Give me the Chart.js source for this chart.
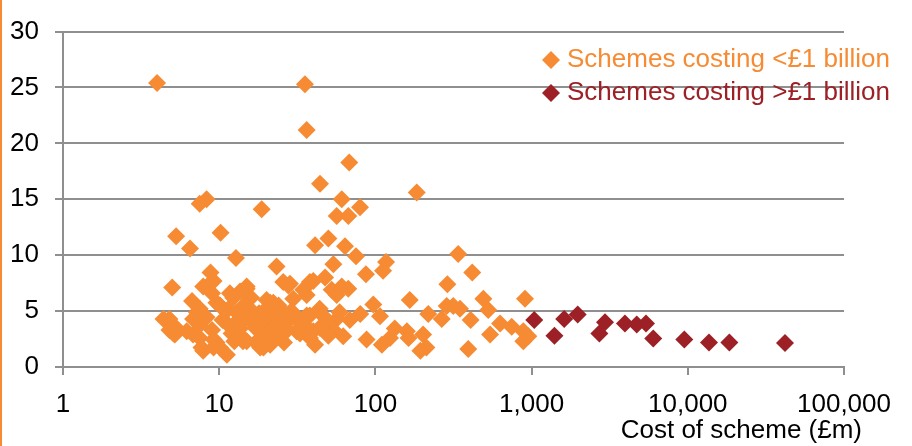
<!DOCTYPE html>
<html>
<head>
<meta charset="utf-8">
<script src="https://cdn.jsdelivr.net/npm/chart.js@4/dist/chart.umd.min.js"></script>
<style>
  body { margin: 0; background: #fff; }
  #wrap { position: relative; width: 912px; height: 446px; }
  #edge { position: absolute; left: 0; top: 0; width: 2px; height: 446px; background: #f68b33; }
</style>
</head>
<body>
<div id="wrap">
  <canvas id="costChart" width="912" height="446"></canvas>
  <div id="edge"></div>
</div>
<script>
// cost of scheme (£m)
const smallSchemes = [
    [4.0, 25.4], [35.4, 25.3], [36.3, 21.2], [68, 18.3], [44.2, 16.4], [184, 15.6], [8.3, 15.0], [7.5, 14.6],
    [60.9, 15.0], [79.7, 14.3], [18.7, 14.1], [56.5, 13.5], [67.1, 13.5],
    [10.2, 12.0], [5.3, 11.7], [6.5, 10.6], [50, 11.5], [41.1, 10.9], [63.9, 10.8], [12.8, 9.75], [75.1, 9.9],
    [339, 10.1], [23.3, 9.0], [53.8, 9.2], [117, 9.4], [112, 8.6], [87, 8.3], [417, 8.45], [8.8, 8.45], [47.6, 8.0],
    [5.0, 7.1], [9.2, 7.7], [7.9, 7.2], [25.7, 7.6], [27.7, 7.3], [38.1, 7.6], [60.9, 7.2], [52.5, 6.9], [67, 7.0],
    [289, 7.4], [28.4, 7.45], [15.0, 7.0], [13.6, 6.75], [56.5, 6.45], [36.3, 6.45], [29.8, 6.1], [12.3, 6.2],
    [6.7, 5.9], [166, 6.0], [907, 6.1], [491, 6.1], [20.1, 6.0], [9, 6.6], [16, 6.2],
    [10.1, 5.5], [9.6, 5.75], [14.6, 5.6], [22.2, 5.75], [97, 5.6], [315, 5.45], [348, 5.2], [286, 5.45], [528, 5.1],
    [44, 5.2], [13.6, 4.9], [7.2, 4.9], [25.7, 4.9], [59, 4.9], [80, 4.75], [218, 4.75], [7.5, 4.75], [38, 4.6],
    [22.2, 4.6], [107, 4.55], [8.3, 4.45], [11.5, 5.2], [20, 5.2], [24, 5.5],
    [4.8, 4.3], [4.4, 4.3], [15.7, 4.3], [20.1, 4.3], [28.4, 4.3], [56.5, 4.3], [266, 4.3], [68.6, 4.2], [407, 4.2],
    [27, 4.0], [34.5, 3.9], [628, 3.9], [12.3, 3.75], [7.5, 3.75], [48.8, 3.75], [746, 3.6],
    [5.35, 3.45], [13.6, 3.45], [133, 3.45], [4.8, 3.3], [53.8, 3.3], [19.2, 3.2], [6.2, 3.2], [31.3, 3.2], [159, 3.2],
    [885, 3.2], [32.9, 3.0], [5.2, 2.9], [6.8, 2.9], [202, 2.9], [542, 2.9], [62.2, 2.75], [953, 2.75],
    [14.2, 2.6], [38.1, 2.6], [124, 2.6], [163, 2.6], [9.2, 2.45], [87.8, 2.45], [15, 2.3], [885, 2.3], [9.6, 2.2],
    [17.8, 2.0], [21.2, 2.0], [41.1, 2.0], [110, 2.0], [7.7, 1.75], [10.1, 1.75], [18.3, 1.75], [212, 1.75],
    [393, 1.6], [194, 1.45], [11.2, 1.1],
    [11, 4.0], [12, 3.0], [16, 5.0], [17, 3.5], [18, 4.8], [19, 2.5], [21, 3.5], [23, 2.8], [24, 4.0], [26, 3.0],
    [29, 5.0], [30, 4.5], [33, 4.2], [35, 3.4], [40, 3.2], [44, 3.5], [46, 4.6], [50, 2.8], [9, 3.3], [10.5, 4.2],
    [14, 4.0], [12.5, 2.3], [26, 2.2],
    [5.1, 3.0], [7.5, 2.6], [9.2, 1.75], [7.9, 1.45], [6.8, 4.3], [7.5, 5.2], [10.1, 5.5], [13.6, 3.75], [14.2, 2.3],
    [18.3, 2.6], [19.2, 1.75], [15.7, 5.2], [21.2, 5.75], [24.5, 4.3], [27, 3.45], [22.2, 3.45], [18.3, 4.0],
    [12.9, 4.9], [11.7, 6.6], [15, 7.2], [8.7, 7.45], [34.5, 6.9], [40, 7.7], [38, 3.2], [36.3, 4.6]
];
const bigSchemes = [
    [1040, 4.2], [1400, 2.8], [1617, 4.3], [1972, 4.7], [2715, 3.0], [2950, 4.0], [3960, 3.9], [4710, 3.8],
    [5400, 3.9], [6010, 2.55], [9500, 2.45], [13670, 2.2], [18450, 2.2], [41900, 2.15]
];
const seriesNames = ['Schemes costing <£1 billion', 'Schemes costing >£1 billion'];
const seriesColors = ['#f68b33', '#9c2026'];
const xTicks = [1, 10, 100, 1000, 10000, 100000];
const yTicks = [0, 5, 10, 15, 20, 25, 30];
const xTitle = 'Cost of scheme (£m)';

const fontFamily = '"Liberation Sans", Arial, sans-serif';
const gridColor = '#8f8f8f';

// legend and axis title drawn by hand so they sit where the original has them
const overlay = {
    id: 'overlay',
    afterDraw(chart) {
        const ctx = chart.ctx;
        ctx.save();
        ctx.font = '26px ' + fontFamily;
        ctx.textBaseline = 'alphabetic';
        chart.data.datasets.forEach((ds, i) => {
            const base = 67 + i * 33;
            const cx = 551, cy = base - 7, r = 9;
            ctx.fillStyle = ds.backgroundColor;
            ctx.beginPath();
            ctx.moveTo(cx - r, cy);
            ctx.lineTo(cx, cy - r);
            ctx.lineTo(cx + r, cy);
            ctx.lineTo(cx, cy + r);
            ctx.closePath();
            ctx.fill();
            ctx.textAlign = 'left';
            ctx.fillText(ds.label, 567, base);
        });
        ctx.fillStyle = '#000';
        ctx.textAlign = 'right';
        ctx.fillText(xTitle, 862, 438);
        ctx.restore();
    }
};

const toPoints = (arr) => arr.map(p => ({ x: p[0], y: p[1] }));

const ctx = document.getElementById('costChart').getContext('2d');
new Chart(ctx, {
    type: 'scatter',
    data: {
        datasets: [{
            label: seriesNames[0],
            data: toPoints(smallSchemes),
            backgroundColor: seriesColors[0],
            borderColor: seriesColors[0],
            pointStyle: 'rectRot',
            pointRadius: 9,
            pointBorderWidth: 0
        }, {
            label: seriesNames[1],
            data: toPoints(bigSchemes),
            backgroundColor: seriesColors[1],
            borderColor: seriesColors[1],
            pointStyle: 'rectRot',
            pointRadius: 9,
            pointBorderWidth: 0
        }]
    },
    options: {
        responsive: false,
        animation: false,
        layout: { padding: { top: 17, right: 68, bottom: 0, left: 0 } },
        plugins: {
            legend: { display: false },
            tooltip: { enabled: false }
        },
        scales: {
            x: {
                type: 'logarithmic',
                min: 1,
                max: 100000,
                afterBuildTicks: (s) => { s.ticks = xTicks.map(v => ({ value: v })); },
                afterFit: (s) => { s.height = 79; },
                ticks: {
                    autoSkip: false,
                    maxRotation: 0,
                    padding: 14,
                    color: '#000',
                    font: { family: fontFamily, size: 26 },
                    callback: (v) => Number(v).toLocaleString('en-US')
                },
                grid: { drawOnChartArea: false, tickLength: 8, color: gridColor, lineWidth: 2 },
                border: { color: gridColor, width: 2 }
            },
            y: {
                min: 0,
                max: 30,
                afterBuildTicks: (s) => { s.ticks = yTicks.map(v => ({ value: v })); },
                afterFit: (s) => { s.width = 63; },
                ticks: {
                    padding: 16,
                    color: '#000',
                    font: { family: fontFamily, size: 26 }
                },
                grid: { tickLength: 8, color: gridColor, lineWidth: 2 },
                border: { color: gridColor, width: 2 }
            }
        }
    },
    plugins: [overlay]
});
</script>
</body>
</html>
